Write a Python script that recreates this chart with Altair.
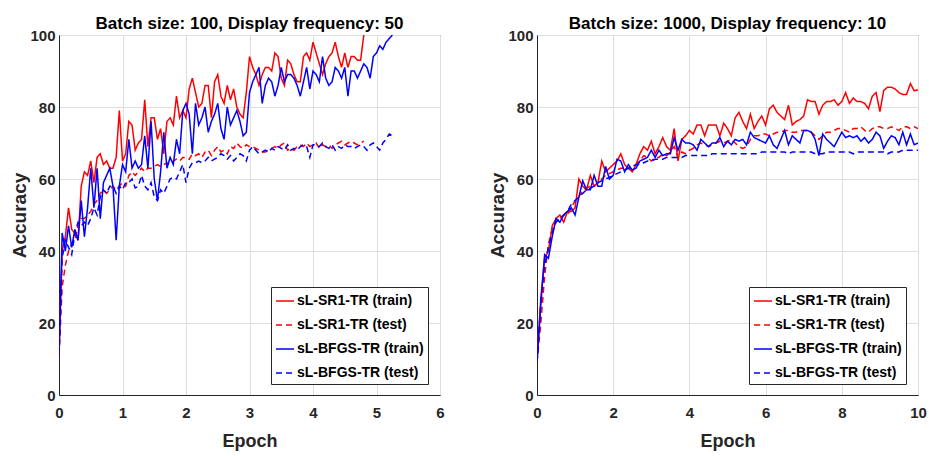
import altair as alt
import pandas as pd

SERIES = ["sL-SR1-TR (train)", "sL-SR1-TR (test)", "sL-BFGS-TR (train)", "sL-BFGS-TR (test)"]
COLORS = ["#ff0000", "#ff0000", "#0000ff", "#0000ff"]
DASHES = [[1, 0], [6, 4], [1, 0], [6, 4]]

# ---- Left panel: batch 100, display freq 50 (one point every 0.05 epoch)
L_STEP = 0.05
L_SR1_TRAIN = [11, 40, 44, 52, 46, 45, 43, 58, 62, 61,
               65, 59, 66, 67, 64, 65, 63, 63, 66, 79,
               65, 67, 76, 75, 68, 70, 71, 82, 69, 77,
               77, 71, 74, 67, 76, 77, 75, 83, 77, 79,
               77, 85, 88, 84, 80, 81, 86, 86, 77, 87,
               89, 83, 81, 86, 82, 85, 80, 78, 77, 84,
               94, 91, 89, 86, 89, 91, 91, 90, 95, 94,
               88, 86, 93, 92, 89, 87, 87, 94, 95, 93,
               98, 95, 92, 89, 92, 94, 95, 98, 94, 91,
               95, 91, 94, 94, 93, 93, 100]
L_SR1_TEST = [11, 30, 36, 40, 42, 43, 47, 49, 49, 50,
              51, 53, 54, 56, 57, 56, 57, 58, 57, 58,
              59, 58, 61, 62, 61, 62, 63, 62, 63, 63,
              63.5, 64, 63.5, 64, 64.5, 64, 65, 65.5, 65, 66,
              66, 65.5, 67, 66.5, 67, 66, 67.5, 68, 66.5, 68,
              69, 67.5, 68, 67, 69, 68.5, 70, 69, 68.5, 69.5,
              69, 69, 68.5, 68, 67.5, 67.5, 68, 68.5, 69, 68.5,
              69.5, 70, 68, 68.5, 68, 69, 69.5, 69, 70, 69,
              69.5, 70, 68.5, 69.5, 69, 69.5, 68.5, 69.5, 70, 70.5,
              69.5, 70, 70.5, 70, 69.5, 70, 70.5]
L_BFGS_TRAIN = [11, 45, 40, 47, 41, 46, 43, 54, 44, 52,
                63, 52, 63, 49, 59, 61, 63, 58, 43, 58,
                64, 62, 71, 63, 65, 63, 64, 72, 63, 76,
                60, 54, 62, 73, 63, 66, 64, 71, 67, 79,
                81, 78, 67, 81, 75, 77, 80, 73, 76, 78,
                81, 74, 71, 80, 75, 77, 79, 76, 72, 73,
                84, 87, 89, 91, 81, 86, 88, 87, 83, 86,
                91, 87, 89, 89, 88, 86, 83, 87, 91, 85,
                90, 89, 87, 94, 88, 86, 87, 91, 90, 88,
                91, 83, 90, 90, 88, 90, 92, 91, 88, 94,
                95, 97, 96, 98, 99, 100]
L_BFGS_TEST = [11, 38, 43, 41, 39, 45, 48, 47, 48, 47,
               49, 52, 50, 55, 57, 56, 58, 58, 56, 58,
               57, 59, 59, 60, 57.5, 58, 61, 58, 57, 59,
               55, 54, 57, 56, 58, 60, 60.5, 60, 62, 64,
               59, 63, 64.5, 64.5, 65, 64.5, 65, 66, 65, 65.5,
               66, 67, 66.5, 65.5, 66.5, 65, 66, 67, 66.5, 65,
               68, 69, 68, 67, 67.5, 68, 67.5, 68.5, 68, 69,
               68.5, 68, 69.5, 68, 68.5, 68, 69, 69.5, 69, 66,
               69.5, 69.5, 69, 70, 69, 68.5, 69.5, 68, 69, 68.5,
               69.5, 69, 69, 68.5, 69, 69.5, 69, 68, 69.5, 70,
               69, 68, 70, 71, 72.5, 72]

# ---- Right panel: batch 1000, display freq 10 (one point every 0.1 epoch)
R_STEP = 0.1
R_SR1_TRAIN = [9, 27, 38, 40, 47, 49, 50, 48, 51, 51,
               52, 60, 58, 57, 61, 58, 59, 65, 62, 63,
               64, 65, 67, 64, 63, 62, 64, 67, 69, 68,
               70.5, 67, 69, 71.5, 69, 68, 74, 65, 71, 72,
               73.5, 72.5, 75, 75, 72, 75, 75, 75, 72, 75.5,
               74, 72, 77, 78.5, 76, 74, 78, 74, 76, 77.5,
               75, 79.5, 80.5, 78.5, 77.5, 76.5, 80.5, 75, 76, 76.5,
               77.5, 82, 81.5, 81.5, 78, 80.5, 81.5, 81.5, 82, 80.5,
               81.5, 84, 81, 82.5, 81.5, 81.5, 81, 79.5, 83, 84,
               78.7, 84.6, 85.5, 85.5, 85, 84, 83.5, 83.5, 86.5, 84.5,
               84.8]
R_SR1_TEST = [9, 20, 33, 42, 46, 49, 49, 50, 50, 52,
              54, 55, 57, 57.5, 58, 58, 59, 60, 61, 61.5,
              62, 62.5, 63, 63, 63, 62.5, 64, 65, 66.5, 66,
              65, 66, 66, 67, 66.5, 67.5, 69, 66, 67.5, 67,
              68, 68.5, 69.5, 70, 69.5, 69, 69.5, 70, 70.5, 70,
              70.5, 71, 70, 69, 68.5, 69, 71, 72, 72, 72.5,
              72.5, 72, 72.5, 73, 73, 73.5, 73.5, 73, 73, 73.5,
              73.5, 73.5, 73, 72, 71, 72, 73, 73, 73.5, 74,
              74, 73.5, 73, 74, 74, 74.5, 73.5, 73, 74, 74.5,
              74.5, 74, 74, 74.5, 74, 73.5, 74.5, 74.5, 74, 74.5,
              74]
R_BFGS_TRAIN = [9, 25, 39, 38, 44, 49, 48, 50, 51, 52,
                50, 55, 59.5, 57, 57, 61, 58, 58, 63.5, 60,
                61, 65.5, 65, 62, 64, 62.5, 63, 65, 65.5, 66,
                68, 66, 68, 66.5, 67, 67, 71.5, 68, 71, 70,
                70, 69.5, 68, 71, 70, 69, 70, 70, 71.5, 69,
                70.5, 69.5, 71, 70.5, 71, 69.5, 73, 71.5, 71, 70.5,
                70, 72, 69.5, 68.5, 71, 73.5, 69.5, 72, 71, 70,
                73.5, 73.5, 73, 71, 66.5, 72.5, 71, 70, 69, 71,
                73, 71.5, 72, 71.5, 72, 70.5, 71.5, 70, 71, 73,
                72, 68.5, 70.5, 72, 71.5, 69.5, 73, 69.5, 72.5, 69.5,
                70]
R_BFGS_TEST = [9, 26, 36, 41, 45, 48, 49, 50, 51, 53,
               54, 55, 56, 57, 57.5, 58, 59, 59.5, 60, 60.5,
               61, 61.5, 62, 62.5, 63, 63.5, 64, 64, 64.5, 65,
               65, 65.5, 65.5, 65.5, 66, 66, 66, 66, 66, 66.5,
               66.5, 66.5, 66.5, 66.5, 66.5, 66.5, 67, 67, 67, 67,
               67, 67, 67, 67, 67, 67, 67, 67, 67, 67.5,
               67.5, 67.5, 67.5, 67.5, 67.5, 67.5, 67, 67.5, 67.5, 67.5,
               67.5, 67.5, 67.5, 67, 67, 67, 67.5, 67.5, 67.5, 67.5,
               67.5, 67.5, 67.5, 67, 67.5, 67.5, 67.5, 67.5, 67.5, 67.5,
               67.5, 67.5, 67, 67.5, 67.5, 67.5, 68, 68, 68, 68,
               68]

FONT = "Liberation Sans"
INK = "#262626"


def frame(step, arrays):
    rows = []
    for name, vals in zip(SERIES, arrays):
        for i, v in enumerate(vals):
            rows.append({"epoch": round(i * step, 4), "acc": v, "series": name})
    return pd.DataFrame(rows)


def panel(df, title, xmax, xstep):
    legend = alt.Legend(
        title=None, orient="none", legendX=212, legendY=252,
        fillColor="white", strokeColor=INK, padding=4, cornerRadius=0,
        symbolType="stroke", symbolSize=324, symbolStrokeWidth=1.5,
        labelFont=FONT, labelFontSize=14, labelFontWeight="bold", labelColor="black",
        labelOffset=2, rowPadding=7,
    )
    return alt.Chart(
        df,
        title=alt.Title(title, font=FONT, fontSize=17, fontWeight="bold", color="black",
                        offset=-18, baseline="alphabetic", frame="group"),
    ).mark_line(strokeWidth=1.5, clip=True).encode(
        x=alt.X("epoch:Q", scale=alt.Scale(domain=[0, xmax], nice=False),
                axis=alt.Axis(values=list(range(0, xmax + 1, xstep)), title="Epoch")),
        y=alt.Y("acc:Q", scale=alt.Scale(domain=[0, 100], nice=False),
                axis=alt.Axis(values=[0, 20, 40, 60, 80, 100], title="Accuracy")),
        color=alt.Color("series:N", sort=SERIES,
                        scale=alt.Scale(domain=SERIES, range=COLORS), legend=legend),
        strokeDash=alt.StrokeDash("series:N", sort=SERIES,
                                  scale=alt.Scale(domain=SERIES, range=DASHES), legend=legend),
    ).properties(width=381, height=360)


left = panel(frame(L_STEP, [L_SR1_TRAIN, L_SR1_TEST, L_BFGS_TRAIN, L_BFGS_TEST]),
             "Batch size: 100, Display frequency: 50", 6, 1)
right = panel(frame(R_STEP, [R_SR1_TRAIN, R_SR1_TEST, R_BFGS_TRAIN, R_BFGS_TEST]),
              "Batch size: 1000, Display frequency: 10", 10, 2)

chart = alt.hconcat(left, right, spacing=97, bounds="flush").resolve_scale(
    x="independent", color="independent", strokeDash="independent"
).resolve_legend(
    color="independent", strokeDash="independent"
).configure_axis(
    labelFont=FONT, labelFontSize=15, labelFontWeight="bold", labelColor=INK,
    titleFont=FONT, titleFontWeight="bold", titleColor=INK,
    gridColor="#dedede", gridWidth=1, domainColor=INK, domainWidth=1,
    ticks=False, labelFlush=False,
).configure_axisX(
    labelPadding=10, titlePadding=12, titleFontSize=18,
).configure_axisY(
    labelPadding=4, titlePadding=0, titleFontSize=19,
).configure_view(
    stroke=INK, strokeWidth=1,
).properties(
    padding={"left": 10, "top": 14, "right": 2, "bottom": 2},
)

chart.save("out.html", embed_options={"renderer": "svg", "actions": False})
